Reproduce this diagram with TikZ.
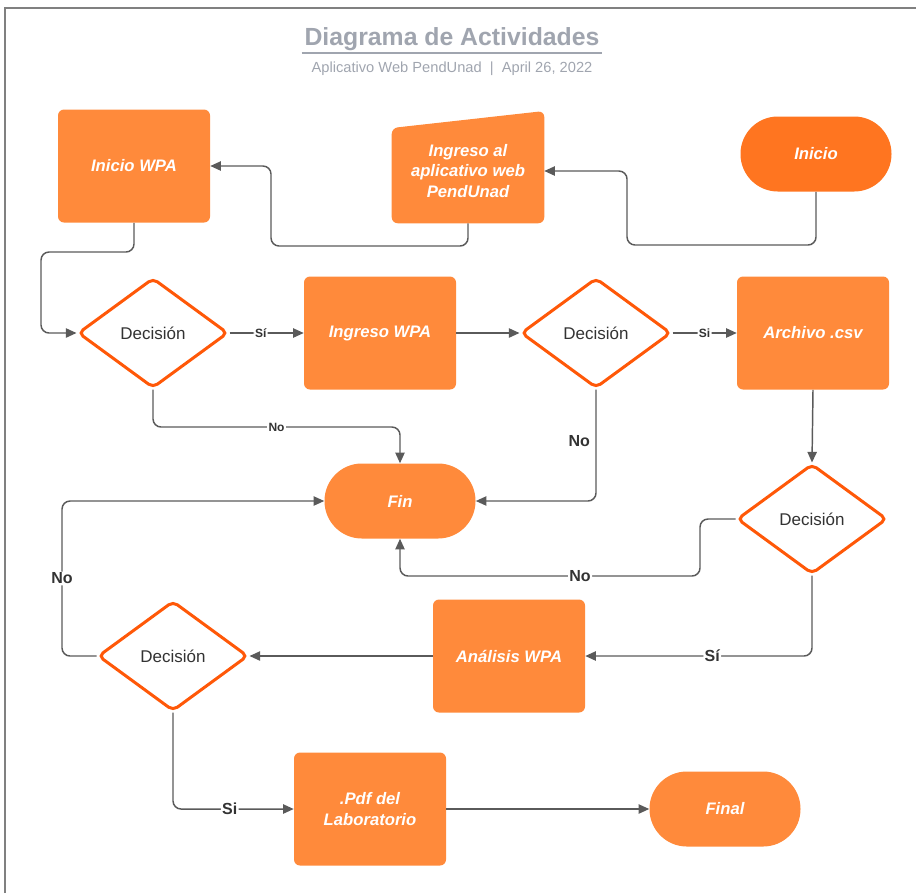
\documentclass[tikz,border=0pt]{standalone}
\usepackage{fontspec}
\setmainfont{Liberation Sans}
\usetikzlibrary{arrows.meta,shapes.geometric,backgrounds}

\definecolor{boxorange}{RGB}{255,138,59}
\definecolor{startorange}{RGB}{255,117,32}
\definecolor{decred}{RGB}{255,88,8}
\definecolor{linegray}{RGB}{90,90,90}
\definecolor{titlegray}{RGB}{160,165,175}
\definecolor{textgray}{RGB}{51,51,51}

\begin{document}
\begin{tikzpicture}[x=0.75pt,y=-0.75pt,>={Triangle[length=8pt,width=7pt]},
    box/.style={draw=none,fill=boxorange,rounded corners=4.5pt,minimum width=114pt,minimum height=84.75pt,
      text=white,font=\fontsize{12.5}{15.4}\selectfont\bfseries\itshape,align=center,inner sep=2pt},
    term/.style={box,rounded corners=28pt,minimum width=113.25pt,minimum height=56.25pt},
    decision/.style={diamond,draw=decred,line width=2.25pt,fill=white,rounded corners=4pt,
      minimum width=112.5pt,minimum height=82.5pt,inner sep=0pt,text=textgray,font=\fontsize{12.75}{15}\selectfont},
    conn/.style={->,draw=linegray,line width=1.1pt,rounded corners=6pt},
    lblsmall/.style={fill=white,inner sep=1pt,text=textgray,font=\fontsize{9}{10}\selectfont\bfseries},
    lblbig/.style={fill=white,inner sep=1pt,text=textgray,font=\fontsize{12}{14}\selectfont\bfseries}]
    \useasboundingbox (0,0) rectangle (916,893);
    \draw[gray,line width=0.8pt] (5,893) -- (5,8) -- (916,8);

    % title
    \node[text=titlegray,font=\fontsize{18.6}{22}\selectfont\bfseries,inner xsep=2pt,inner ysep=1.5pt]
      (titulo) at (452,39) {Diagrama de Actividades};
    \draw[titlegray,line width=1.5pt] (titulo.south west) -- (titulo.south east);
    \node[text=titlegray,font=\fontsize{11}{13}\selectfont] (subtitulo) at (452,69)
      {Aplicativo Web PendUnad \ | \ April 26, 2022};

    % nodes
    \node[box] (iniciowpa) at (134,166) {Inicio WPA};
    \node[box,fill=none,minimum height=78pt] (ingreso) at (468,171) {Ingreso al\\aplicativo web\\PendUnad};
    \begin{pgfonlayer}{background}
      \fill[boxorange,rounded corners=4.5pt] (ingreso.south west) -- (ingreso.west |- 0,128)
        -- (ingreso.east |- 0,111) -- (ingreso.south east) -- cycle;
    \end{pgfonlayer}
    \node[term,fill=startorange] (inicio) at (816,154) {Inicio};
    \node[decision] (dec1) at (153,333) {Decisión};
    \node[box] (ingresowpa) at (380,333) {Ingreso WPA};
    \node[decision] (dec2) at (596,333) {Decisión};
    \node[box] (archivo) at (813,333) {Archivo .csv};
    \node[term] (fin) at (400,501) {Fin};
    \node[decision] (dec3) at (812,519) {Decisión};
    \node[box] (analisis) at (509,656) {Análisis WPA};
    \node[decision] (dec4) at (173,656) {Decisión};
    \node[box] (pdf) at (370,809) {.Pdf del\\Laboratorio};
    \node[term] (final) at (725,809) {Final};

    % connectors
    \draw[conn] (inicio.south) |- (627,245) |- (ingreso.east);
    \draw[conn] (ingreso.south) |- (271,246) |- (iniciowpa.east);
    \draw[conn] (iniciowpa.south) |- (41,252) |- (dec1.west);
    \draw[conn] (dec1.east) -- node[lblsmall,pos=0.42]{Sí} (ingresowpa.west);
    \draw[conn] (ingresowpa.east) -- (dec2.west);
    \draw[conn] (dec2.east) -- node[lblsmall]{Si} (archivo.west);
    \draw[conn] (dec1.south) |- node[lblsmall,pos=0.75]{No} (fin.north |- 0,427) -- (fin.north);
    \draw[conn] (dec2.south) |- node[lblbig,fill=none,left=3pt,pos=0.23]{No} (fin.east);
    \draw[conn] (archivo.south) -- (dec3.north);
    \draw[conn] (dec3.west) -| (700,576) -| node[lblbig,pos=0.2]{No} (fin.south);
    \draw[conn] (dec3.south) |- node[lblbig,pos=0.72]{Sí} (analisis.east);
    \draw[conn] (analisis.west) -- (dec4.east);
    \draw[conn] (dec4.west) -| node[lblbig,pos=0.75]{No} (fin.west -| 62,0) -- (fin.west);
    \draw[conn] (dec4.south) |- node[lblbig,pos=0.735]{Si} (pdf.west);
    \draw[conn] (pdf.east) -- (final.west);
\end{tikzpicture}
\end{document}
